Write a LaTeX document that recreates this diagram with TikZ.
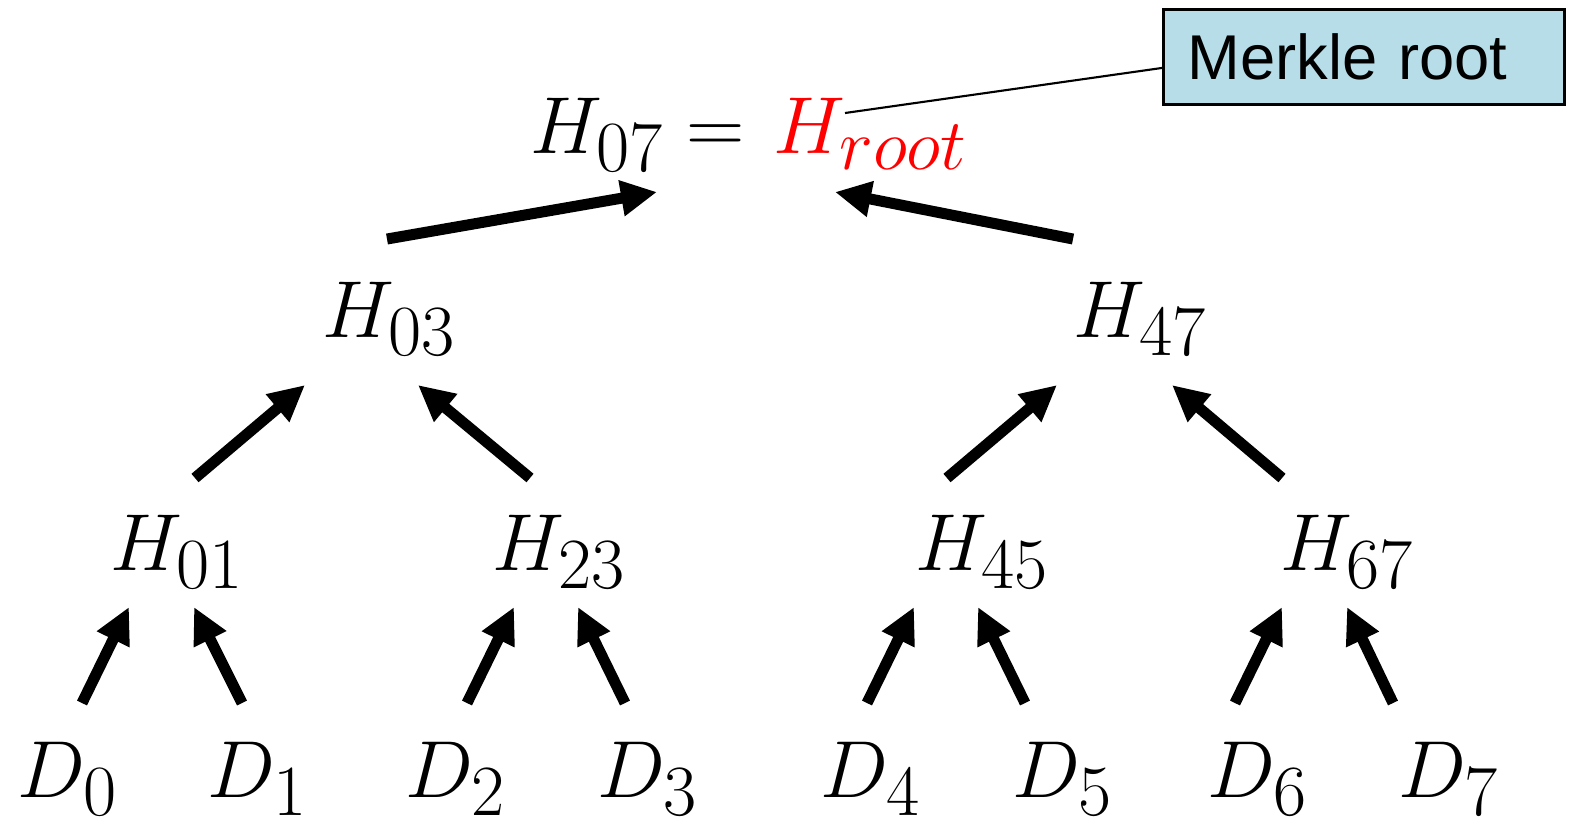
\RequirePackage{fix-cm}
\documentclass[tikz,border=0pt]{standalone}
\usepackage{fontspec}
\newfontfamily\labelfont{Liberation Sans}
\usetikzlibrary{arrows.meta}
\DeclareMathSizes{23}{23}{20.5}{16}
\definecolor{calloutfill}{HTML}{B7DEE8}
\tikzset{
    hashtext/.style={inner sep=0pt, anchor=base west, font=\fontsize{23}{28}\selectfont},
    arr/.style={-{Triangle[length=0.36cm, width=0.34cm]}, line width=0.11cm},
    callout/.style={draw=black, line width=0.8pt, fill=calloutfill, anchor=north west, minimum height=0.95cm, inner xsep=0.24cm, inner ysep=0pt, text width=3.53cm, align=left, font=\labelfont\fontsize{18}{21}\selectfont}
}

\begin{document}
\begin{tikzpicture}[x=0.01cm, y=-0.01cm]
        \useasboundingbox (0,0) rectangle (1570,826);

        % data blocks
        \node[hashtext] (D0) at (17,797) {$D_0$};
        \node[hashtext] (D1) at (207,797) {$D_1$};
        \node[hashtext] (D2) at (405,797) {$D_2$};
        \node[hashtext] (D3) at (597,797) {$D_3$};
        \node[hashtext] (D4) at (820,797) {$D_4$};
        \node[hashtext] (D5) at (1012,797) {$D_5$};
        \node[hashtext] (D6) at (1207,797) {$D_6$};
        \node[hashtext] (D7) at (1398,797) {$D_7$};

        % hashes
        \node[hashtext] (H01) at (110,570) {$H_{01}$};
        \node[hashtext] (H23) at (492,570) {$H_{23}$};
        \node[hashtext] (H45) at (915,570) {$H_{45}$};
        \node[hashtext] (H67) at (1280,570) {$H_{67}$};
        \node[hashtext] (H03) at (322,337) {$H_{03}$};
        \node[hashtext] (H47) at (1073,337) {$H_{47}$};
        \node[hashtext] (H07) at (530,153) {$H_{07}=$};
        \node[hashtext, text=red] (Hroot) at (773,153) {$H_{root}$};

        \node[callout] (merkle) at (1162,8) {Merkle root};
        \draw[line width=0.6pt] ([shift={(0,11)}]merkle.west) -- ([shift={(72,-40)}]Hroot.base west);

        \foreach \src/\sx/\sy/\dst/\dx/\dy in {
            D0/65/-94/H01/19/37, D1/35/-94/H01/84/37, D2/62/-94/H23/22/37, D3/28/-94/H23/86/37,
            D4/47/-94/H45/-1/37, D5/13/-94/H45/63/37, D6/28/-94/H67/2/37, D7/-5/-94/H67/67/37,
            H01/85/-92/H03/-17/48, H23/38/-92/H03/96/48, H45/32/-92/H47/-16/48, H67/2/-92/H47/99/48,
            H03/65/-98/H07/127/39, H47/0/-98/Hroot/62/39}
            \draw[arr] ([shift={(\sx,\sy)}]\src.base west) -- ([shift={(\dx,\dy)}]\dst.base west);
\end{tikzpicture}
\end{document}
